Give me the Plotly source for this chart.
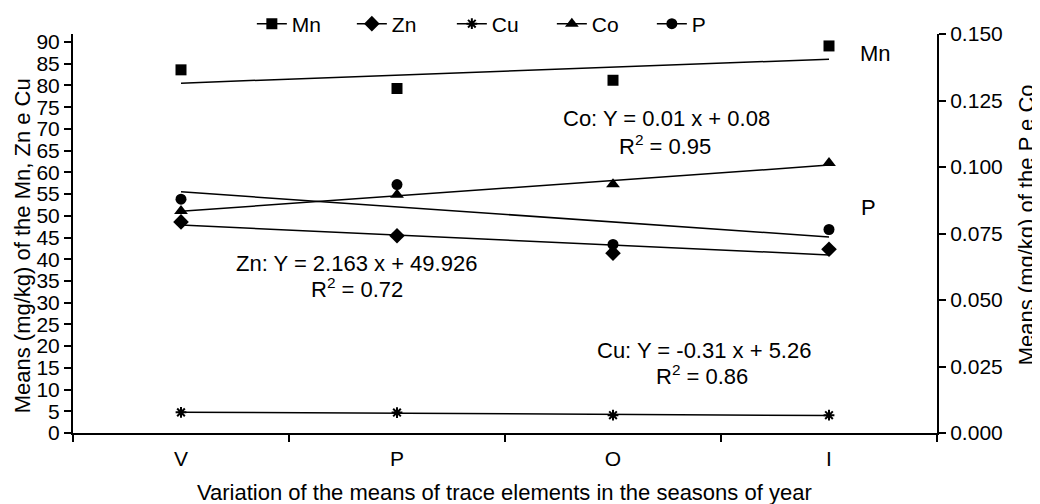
import numpy as np
import plotly.graph_objects as go

seasons = ["V", "P", "O", "I"]
mn = [83.6, 79.3, 81.2, 89.1]
zn = [48.6, 45.4, 41.4, 42.3]
cu = [4.75, 4.7, 4.1, 4.1]
co = [0.0835, 0.0896, 0.0935, 0.1015]
p = [0.0879, 0.0934, 0.0709, 0.0765]

FONT = "Liberation Sans, Arial, sans-serif"
FS_TICK = 21
FS_TEXT = 22

series = [
    ("Mn", mn, "square", "y", 11),
    ("Zn", zn, "diamond", "y", 12),
    ("Cu", cu, "asterisk", "y", 9),
    ("Co", co, "triangle-up", "y2", 12),
    ("P", p, "circle", "y2", 11),
]

fig = go.Figure()
idx = np.arange(len(seasons))
for name, vals, sym, ax, size in series:
    slope, icpt = np.polyfit(idx, vals, 1)
    trend = slope * idx + icpt
    fig.add_trace(go.Scatter(x=seasons, y=trend, mode="lines", yaxis=ax,
                             line=dict(color="black", width=1.5),
                             showlegend=False, hoverinfo="skip"))
    mk = dict(symbol=sym, size=size, color="black")
    if sym == "asterisk":
        mk["line"] = dict(color="black", width=2)
    fig.add_trace(go.Scatter(x=seasons, y=vals, mode="markers", yaxis=ax,
                             marker=mk, showlegend=False, name=name))
    # legend entry
    fig.add_trace(go.Scatter(x=[None], y=[None], mode="lines+markers", yaxis=ax,
                             name=name, marker=mk,
                             line=dict(color="black", width=1.5)))

axis_common = dict(showgrid=False, zeroline=False, showline=True, linecolor="black",
                   linewidth=2, ticks="outside", ticklen=7, tickwidth=2, automargin=False,
                   tickcolor="black", tickfont=dict(family=FONT, size=FS_TICK, color="black"))

# page has an 8px body margin; figure is sized so the plot area lands at
# page x 73..937, y 33.7..432.7
fig.update_layout(
    width=1032, height=496,
    margin=dict(l=65, r=103, t=25.7, b=71.3, autoexpand=False),
    paper_bgcolor="white", plot_bgcolor="white",
    font=dict(family=FONT, size=FS_TEXT, color="black"),
    xaxis=dict(type="category", range=[-0.5, 3.5], tickson="boundaries",
               ticklabelstandoff=6, **axis_common),
    yaxis=dict(range=[0, 91.85], dtick=5, tick0=0, **axis_common),
    yaxis2=dict(range=[0, 0.15], dtick=0.025, tick0=0, tickformat=".3f",
                overlaying="y", side="right", **axis_common),
    legend=dict(orientation="h", x=0.207, xanchor="left", y=1.025, yanchor="middle",
                font=dict(family=FONT, size=FS_TICK), bgcolor="rgba(0,0,0,0)",
                entrywidth=55, entrywidthmode="pixels", tracegroupgap=0),
    showlegend=True,
)

def ann(text, x, y, size=FS_TEXT, **kw):
    fig.add_annotation(text=text, x=x, y=y, xref="paper", yref="paper",
                       xanchor="center", yanchor="middle",
                       showarrow=False, font=dict(family=FONT, size=size, color="black"), **kw)

def px_x(px):
    return (px - 73) / 864

def px_y(py):
    return (432.7 - py) / 399

ann("Mn", px_x(875), px_y(53))
ann("P", px_x(868), px_y(207))
ann("Co: Y = 0.01 x + 0.08", px_x(666), px_y(118))
ann("R<sup>2</sup> = 0.95", px_x(665), px_y(145))
ann("Zn: Y = 2.163 x + 49.926", px_x(356), px_y(263))
ann("R<sup>2</sup> = 0.72", px_x(357), px_y(288))
ann("Cu: Y = -0.31 x + 5.26", px_x(704), px_y(350))
ann("R<sup>2</sup> = 0.86", px_x(702), px_y(375))
ann("Means (mg/kg) of the Mn, Zn e Cu", px_x(22), px_y(246), textangle=-90)
ann("Means (mg/kg) of the P e Co", px_x(1026), px_y(225), textangle=-90)
ann("Variation of the means of trace elements in the seasons of year", px_x(504), px_y(492))

fig.write_html("out.html")
